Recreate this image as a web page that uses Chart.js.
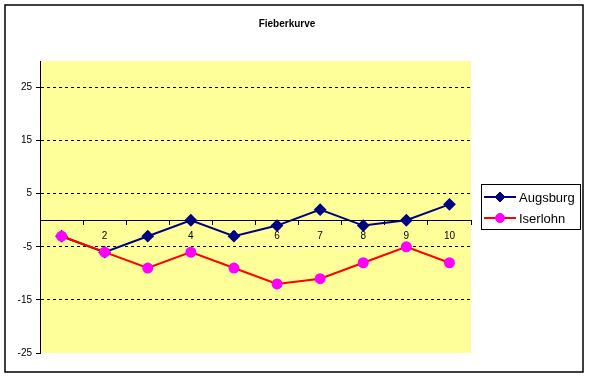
<!DOCTYPE html>
<html>
<head>
<meta charset="utf-8">
<script src="https://cdn.jsdelivr.net/npm/chart.js@4.4.0/dist/chart.umd.min.js"></script>
<style>
html, body { margin: 0; padding: 0; background: #fff; }
</style>
</head>
<body>
<canvas id="lineChart" width="589" height="378"></canvas>
<script>
// values
const days = ['1', '2', '3', '4', '5', '6', '7', '8', '9', '10'];
const augsburg = [-3, -6, -3, 0, -3, -1, 2, -1, 0, 3];
const iserlohn = [-3, -6, -9, -6, -9, -12, -11, -8, -5, -8];
const yTicks = [-25, -15, -5, 5, 15, 25];
const chartTitle = 'Fieberkurve';

const tickFont = { family: 'Liberation Sans', size: 10 };

//Yellow plot area, outer frame, title and boxed legend (Excel look)
const excelFrame = {
    id: 'excelFrame',
    beforeDraw(chart) {
        const c = chart.ctx, a = chart.chartArea;
        c.save();
        c.fillStyle = '#fff';
        c.fillRect(0, 0, chart.width, chart.height);
        c.fillStyle = '#FFFF99';
        c.fillRect(a.left, a.top, a.right - a.left, a.bottom - a.top);
        c.restore();
    },
    afterDraw(chart) {
        const c = chart.ctx;
        c.save();
        c.strokeStyle = '#000';
        c.lineWidth = 1.5;
        c.strokeRect(5, 5, 578, 367);

        c.fillStyle = '#000';
        c.font = 'bold 10px "Liberation Sans"';
        c.textAlign = 'center';
        c.textBaseline = 'middle';
        c.fillText(chartTitle, 287, 24);

        c.lineWidth = 1;
        c.strokeRect(481.5, 184.5, 99, 45);
        c.font = '13px "Liberation Sans"';
        c.textAlign = 'left';
        chart.data.datasets.forEach(function (ds, i) {
            const y = 197 + i * 21;
            c.strokeStyle = ds.borderColor;
            c.lineWidth = 2;
            c.beginPath();
            c.moveTo(484, y);
            c.lineTo(516, y);
            c.stroke();
            c.fillStyle = ds.pointBackgroundColor;
            c.strokeStyle = ds.pointBorderColor;
            c.lineWidth = 1;
            Chart.helpers.drawPoint(c, { pointStyle: ds.pointStyle, radius: ds.pointRadius, borderWidth: 1, rotation: 0 }, 500, y);
            c.fillStyle = '#000';
            c.fillText(ds.label, 519, y + 1);
        });
        c.restore();
    }
};

const ctx = document.getElementById('lineChart').getContext('2d');
const chart = new Chart(ctx, {
    type: 'line',
    data: {
        labels: days,
        datasets: [{
            label: 'Augsburg',
            data: augsburg,
            borderColor: '#000080',
            borderWidth: 2,
            pointStyle: 'rectRot',
            pointRadius: 5,
            pointBackgroundColor: '#000080',
            pointBorderColor: '#000080',
            tension: 0,
            order: 1
        }, {
            label: 'Iserlohn',
            data: iserlohn,
            borderColor: '#FF0000',
            borderWidth: 2,
            pointStyle: 'circle',
            pointRadius: 4.5,
            pointBackgroundColor: '#FF00FF',
            pointBorderColor: '#FF00FF',
            tension: 0,
            order: 0
        }]
    },
    options: {
        responsive: false,
        animation: false,
        layout: { autoPadding: false, padding: { top: 61, left: 0, right: 118, bottom: 25 } },
        plugins: {
            legend: { display: false },
            title: { display: false },
            tooltip: { enabled: false }
        },
        scales: {
            x: {
                position: { y: 0 },
                offset: true,
                grid: { offset: true, drawOnChartArea: false, drawTicks: true, tickLength: 4, color: '#000' },
                border: { color: '#000', width: 1 },
                ticks: { font: tickFont, color: '#000', padding: 6, maxRotation: 0, autoSkip: false },
                afterFit: function (s) { s.height = 0; }
            },
            y: {
                min: -25,
                max: 30,
                afterBuildTicks: function (s) { s.ticks = yTicks.map(v => ({ value: v })); },
                afterFit: function (s) { s.width = 40; },
                grid: {
                    color: c => (c.tick && c.tick.value === -25) ? 'rgba(0,0,0,0)' : '#000',
                    tickColor: '#000',
                    tickLength: 4,
                    tickBorderDash: []
                },
                border: { color: '#000', width: 1, dash: [3, 3] },
                ticks: { font: tickFont, color: '#000', padding: 4 }
            }
        }
    },
    plugins: [excelFrame]
});
</script>
</body>
</html>
